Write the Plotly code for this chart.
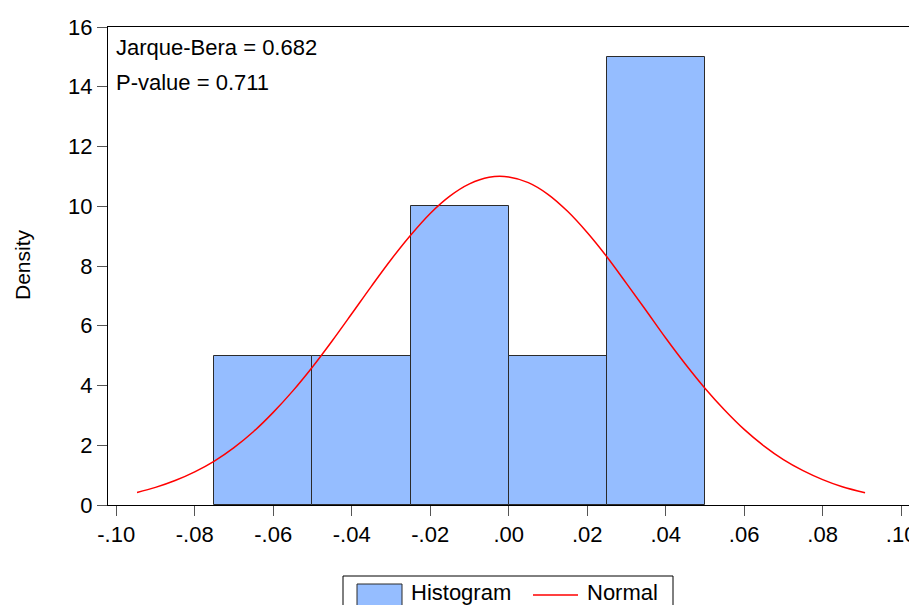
import plotly.graph_objects as go

# Histogram bins (left edges, right edges) and densities
bin_left = [-0.075, -0.050, -0.025, 0.000, 0.025]
bin_right = [-0.050, -0.025, 0.000, 0.025, 0.050]
density = [5, 5, 10, 5, 15]

# Normal curve points
normal_x = [-0.0947, -0.09, -0.085, -0.08, -0.075, -0.07, -0.065, -0.06, -0.055, -0.05,
            -0.045, -0.04, -0.035, -0.03, -0.025, -0.02, -0.015, -0.01, -0.005, 0.0,
            0.005, 0.01, 0.015, 0.02, 0.025, 0.03, 0.035, 0.04, 0.045, 0.05,
            0.055, 0.06, 0.065, 0.07, 0.075, 0.08, 0.085, 0.0908]
normal_y = [0.42, 0.59, 0.82, 1.11, 1.47, 1.92, 2.46, 3.10, 3.82, 4.62,
            5.49, 6.40, 7.32, 8.21, 9.03, 9.76, 10.34, 10.75, 10.97, 10.98,
            10.79, 10.40, 9.83, 9.12, 8.31, 7.42, 6.51, 5.59, 4.72, 3.91,
            3.18, 2.53, 1.98, 1.52, 1.15, 0.85, 0.61, 0.41]

x_tickvals = [-0.10, -0.08, -0.06, -0.04, -0.02, 0.00, 0.02, 0.04, 0.06, 0.08, 0.10]
x_ticktext = ["-.10", "-.08", "-.06", "-.04", "-.02", ".00", ".02", ".04", ".06", ".08", ".10"]
y_tickvals = [0, 2, 4, 6, 8, 10, 12, 14, 16]

stats_text = ["Jarque-Bera = 0.682", "P-value = 0.711"]
series_names = ["Histogram", "Normal"]

BAR_COLOR = "#95BDFF"
LINE_COLOR = "#FF0000"
FONT = "Liberation Sans, Arial, sans-serif"

# The page places the figure 8 px in from the top-left corner (default body margin),
# so the figure is sized/positioned to fill the 917x605 window from that offset.
OFF = 8
W, H = 917 - OFF, 605 - OFF
# plot frame in window pixels: left 108, right 909, top 27, bottom 505
FL, FR, FT, FB = 108 - OFF, 909 - OFF, 27 - OFF, 505 - OFF
ML, MR, MT, MB = FL, W - FR, FT, H - FB
PW, PH = FR - FL, FB - FT


def px(x):
    """window pixel x -> paper coordinate"""
    return (x - OFF - FL) / PW


def py(y):
    """window pixel y -> paper coordinate"""
    return (FB - (y - OFF)) / PH


centers = [(a + b) / 2 for a, b in zip(bin_left, bin_right)]
widths = [b - a for a, b in zip(bin_left, bin_right)]

fig = go.Figure()
fig.add_trace(go.Bar(
    x=centers, y=density, width=widths, name=series_names[0],
    marker=dict(color=BAR_COLOR, line=dict(color="#2b2b2b", width=1)),
    showlegend=False,
))
fig.add_trace(go.Scatter(
    x=normal_x, y=normal_y, mode="lines", name=series_names[1],
    line=dict(color=LINE_COLOR, width=1.5, shape="spline"),
    showlegend=False,
))

fig.update_layout(
    width=W, height=H,
    margin=dict(l=ML, r=MR, t=MT, b=MB, pad=0),
    paper_bgcolor="white", plot_bgcolor="white",
    font=dict(family=FONT, size=22, color="black"),
    bargap=0,
    showlegend=False,
    xaxis=dict(
        range=[-0.1021, 0.1020], tickvals=x_tickvals, ticktext=x_ticktext,
        ticks="outside", ticklen=10, tickcolor="#555555", tickwidth=1,
        showline=True, linecolor="black", linewidth=1, mirror=True,
        showgrid=False, zeroline=False, tickfont=dict(size=22), automargin=False,
    ),
    yaxis=dict(
        range=[0, 16], tickvals=y_tickvals,
        ticks="outside", ticklen=10, tickcolor="#555555", tickwidth=1,
        showline=True, linecolor="black", linewidth=1, mirror=True,
        showgrid=False, zeroline=False, tickfont=dict(size=22), automargin=False,
    ),
)

# y-axis title
fig.add_annotation(
    text="Density", textangle=-90, xref="paper", yref="paper",
    x=px(22), y=py(265), xanchor="center", yanchor="middle",
    showarrow=False, font=dict(size=21, family=FONT),
)

# statistics text
for i, t in enumerate(stats_text):
    fig.add_annotation(
        text=t, xref="paper", yref="paper", x=px(114), y=py(48 + 34 * i),
        xanchor="left", yanchor="middle",
        showarrow=False, font=dict(size=22, family=FONT),
    )

# legend box at the bottom (clipped by the window edge as in the original)
fig.add_shape(type="rect", xref="paper", yref="paper",
              x0=px(343), x1=px(673), y0=py(625), y1=py(576),
              line=dict(color="black", width=1), fillcolor="white", layer="above")
fig.add_shape(type="rect", xref="paper", yref="paper",
              x0=px(357), x1=px(402), y0=py(620), y1=py(584),
              line=dict(color="#2b2b2b", width=1), fillcolor=BAR_COLOR, layer="above")
fig.add_shape(type="line", xref="paper", yref="paper",
              x0=px(533), x1=px(578), y0=py(595), y1=py(595),
              line=dict(color=LINE_COLOR, width=1.5), layer="above")
fig.add_annotation(text=series_names[0], xref="paper", yref="paper",
                   x=px(409), y=py(592), xanchor="left", yanchor="middle",
                   showarrow=False, font=dict(size=22, family=FONT))
fig.add_annotation(text=series_names[1], xref="paper", yref="paper",
                   x=px(585), y=py(592), xanchor="left", yanchor="middle",
                   showarrow=False, font=dict(size=22, family=FONT))

fig.write_html("out.html")
